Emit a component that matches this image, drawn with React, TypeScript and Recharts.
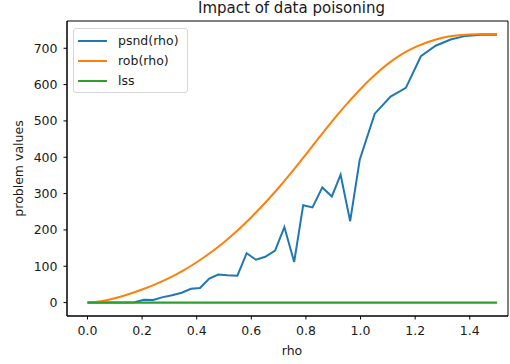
import React from "react";
import { LineChart, Line, XAxis, YAxis, Label, ReferenceArea } from "recharts";

// psnd(rho) samples
const psndRho = [
  0, 0.034, 0.069, 0.103, 0.138, 0.172, 0.207, 0.241, 0.276, 0.31, 0.345, 0.379,
  0.412, 0.446, 0.479, 0.512, 0.549, 0.583, 0.617, 0.651, 0.687, 0.721, 0.757,
  0.79, 0.824, 0.86, 0.895, 0.927, 0.962, 0.997, 1.052, 1.11, 1.166, 1.221,
  1.275, 1.33, 1.385, 1.44, 1.5,
];
const psndValues = [
  0, 0, 0, 0, 0, 1, 8, 7, 15, 20, 27, 38, 40, 66, 77, 75, 74, 136, 118, 126, 143,
  208, 112, 268, 262, 317, 292, 352, 224, 393, 520, 567, 591, 678, 707, 724, 734,
  737, 737,
];

// rob(rho) samples
const robRho = [
  0, 0.05, 0.1, 0.15, 0.2, 0.25, 0.3, 0.35, 0.4, 0.45, 0.5, 0.55, 0.6, 0.65, 0.7,
  0.75, 0.8, 0.85, 0.9, 0.95, 1.0, 1.05, 1.1, 1.15, 1.2, 1.25, 1.3, 1.35, 1.4,
  1.45, 1.5,
];
const robValues = [
  0, 4, 12, 23, 36, 51, 68, 88, 111, 137, 166, 199, 235, 274, 316, 361, 408, 456,
  503, 547, 588, 625, 657, 683, 703, 718, 729, 735, 738, 739, 739,
];

// lss samples
const lssRho = [0, 1.5];
const lssValues = [0, 0];

const xTicks = [0, 0.2, 0.4, 0.6, 0.8, 1.0, 1.2, 1.4];
const yTicks = [0, 100, 200, 300, 400, 500, 600, 700];
const xDomain: [number, number] = [-0.075, 1.54];
const yDomain: [number, number] = [-36.9, 775];

const seriesNames = ["psnd(rho)", "rob(rho)", "lss"];
const seriesColors = ["#1f77b4", "#ff7f0e", "#2ca02c"];

const toPoints = (xs: number[], ys: number[]) =>
  xs.map((x, i) => ({ rho: x, v: ys[i] }));

const psndData = toPoints(psndRho, psndValues);
const robData = toPoints(robRho, robValues);
const lssData = toPoints(lssRho, lssValues);

const FONT = "'DejaVu Sans', Verdana, sans-serif";
const TEXT = "#1a1a1a";

const LegendBox = () => (
  <div
    style={{
      position: "absolute",
      left: 73,
      top: 28,
      width: 115,
      height: 65,
      border: "1px solid #d6d6d6",
      borderRadius: 3,
      background: "rgba(255,255,255,0.8)",
      fontFamily: FONT,
      fontSize: 12.5,
      color: TEXT,
      boxSizing: "border-box",
      paddingTop: 2,
    }}
  >
    {seriesNames.map((n, i) => (
      <div
        key={n}
        style={{ display: "flex", alignItems: "center", height: 20, lineHeight: "20px" }}
      >
        <svg width={44} height={20} style={{ display: "block" }}>
          <line x1={4} x2={33} y1={10} y2={10} stroke={seriesColors[i]} strokeWidth={2} />
        </svg>
        <span>{n}</span>
      </div>
    ))}
  </div>
);

export default function App() {
  return (
    <div style={{ position: "absolute", left: 0, top: 0, width: 510, height: 364, background: "#fff" }}>
      <div
        style={{
          position: "absolute",
          left: 291.5,
          top: 0,
          transform: "translateX(-50%)",
          fontFamily: FONT,
          fontSize: 15,
          lineHeight: "17px",
          color: TEXT,
          whiteSpace: "nowrap",
        }}
      >
        Impact of data poisoning
      </div>
      <LineChart width={510} height={364} margin={{ top: 21, right: 2, bottom: 0, left: 0 }}>
        <XAxis
          dataKey="rho"
          type="number"
          domain={xDomain}
          allowDataOverflow
          ticks={xTicks}
          tickFormatter={(v: number) => v.toFixed(1)}
          height={48}
          stroke="#000"
          tickSize={3.5}
          tickMargin={7}
          tick={{ fill: TEXT, fontSize: 12.5, fontFamily: FONT }}
          interval={0}
        >
          <Label
            content={(props: any) => {
              const vb = props.viewBox || { x: 0, y: 0, width: 0, height: 0 };
              return (
                <text
                  x={vb.x + vb.width / 2 + 4.5}
                  y={vb.y + 39}
                  textAnchor="middle"
                  fontFamily={FONT}
                  fontSize={12.5}
                  fill={TEXT}
                >
                  rho
                </text>
              );
            }}
          />
        </XAxis>
        <YAxis
          type="number"
          domain={yDomain}
          allowDataOverflow
          ticks={yTicks}
          width={67}
          stroke="#000"
          tickSize={3.5}
          tickMargin={6}
          tick={{ fill: TEXT, fontSize: 12.5, fontFamily: FONT }}
          interval={0}
        >
          <Label
            content={(props: any) => {
              const vb = props.viewBox || { x: 0, y: 0, width: 0, height: 0 };
              const cy = vb.y + vb.height / 2;
              return (
                <text
                  x={18.5}
                  y={cy}
                  transform={`rotate(-90, 18.5, ${cy})`}
                  textAnchor="middle"
                  dominantBaseline="central"
                  fontFamily={FONT}
                  fontSize={12.5}
                  fill={TEXT}
                >
                  problem values
                </text>
              );
            }}
          />
        </YAxis>
        <ReferenceArea
          x1={xDomain[0]}
          x2={xDomain[1]}
          y1={yDomain[0]}
          y2={yDomain[1]}
          fill="none"
          fillOpacity={0}
          stroke="#000"
          strokeWidth={1}
          ifOverflow="visible"
        />
        <Line
          data={psndData}
          dataKey="v"
          name={seriesNames[0]}
          type="linear"
          stroke={seriesColors[0]}
          strokeWidth={2}
          dot={false}
          activeDot={false}
          isAnimationActive={false}
        />
        <Line
          data={robData}
          dataKey="v"
          name={seriesNames[1]}
          type="monotone"
          stroke={seriesColors[1]}
          strokeWidth={2}
          dot={false}
          activeDot={false}
          isAnimationActive={false}
        />
        <Line
          data={lssData}
          dataKey="v"
          name={seriesNames[2]}
          type="linear"
          stroke={seriesColors[2]}
          strokeWidth={2.2}
          dot={false}
          activeDot={false}
          isAnimationActive={false}
        />
      </LineChart>
      <LegendBox />
    </div>
  );
}
